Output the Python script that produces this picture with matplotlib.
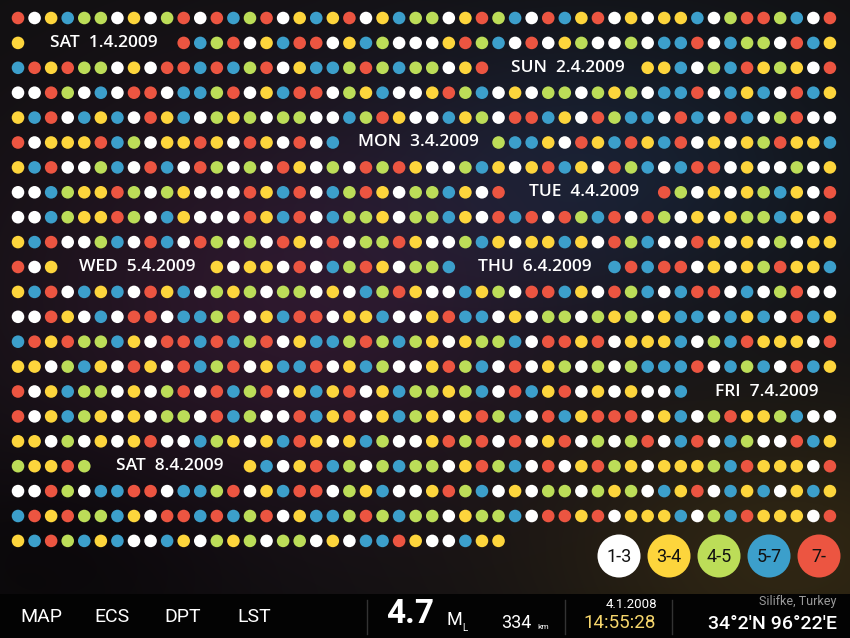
import numpy as np
import matplotlib.pyplot as plt
from matplotlib.patches import Circle

# magnitude classes -> colours
palette = {'W': '#ffffff', 'Y': '#fdd53c', 'G': '#bcdd58', 'B': '#3c9fcb', 'R': '#ec5541'}

# one string per row of dots, blanks are where the day labels sit
rows = [
    "RWYBGGWYWGRWRBGRWYBYRWYBGGWYRGBWRBYRWYWYYBWGRRGBWR",
    "Y         RBGRWYBRRWYBGWWWYRGBWRWYGWWGWBBRWBGGWRBY",
    "BRYRGGWYWRRBRBGRWYBBGRGBGGWYR         YYBWGBRYGYWR",
    "WWRGWBWRRWBBGRWYBRRWGYBWWYRGBWYWGGWGYGWBBRWBYBWRBY",
    "YBRWBYBWRYBWGYGWGGWWBGRYWWBYGWRRBYWRGBBWRBWRBWGRWW",
    "RWYYYRBGWYYRYWRYWRWB         GBBYWRYBRYBRWYWYGRYYB",
    "YBRWWGBWRBWRGWGWRYWGWRGRYWWGBYWYRBYWRGBWBRRWYWWGWY",
    "WWBGYYRGWGYWWWRYBRWBGRYWGGBYWR         RGWYWYGBYWR",
    "WWBGYYRGWBYWWWRYBRWBGGYWGGBYWRBRWRGBRWRGWYWYGGBYWR",
    "YBRWWGBWRBWRGWGWRYWRWGGRYWWGBYWYYBYWRGBWWRYWYWGWYY",
    "RWY         YWYYWRWBGRYWGGB         BRBRRWYWYGRYYB",
    "YBRWBYBWRYBWGYGWGGWYWBGRYWWBYGWRRBYWRGBWBRRWBWGRWW",
    "WWRYWBWRRWBBGRWYBRRWYYBWWYRBBWYWGGWGYGWYBBWBYBWRBY",
    "BRYRGGBYWRRBRBGRWYBBGRGBGYWYGGBWRRYRWYYYBWGBRYYYWR",
    "YYWGBYWRYWRBGRWYBBRWYBGWWYRGBWRWYGWGWGBBBRWBGBWRBY",
    "RWYBGGWYWGRWRBGRWYBYRWYBGGYGBWRBYRWYWYWWB         ",
    "RWYBGYWYWGGWRBGWWRBYRWYBGYWYRGBWRBYRRRWYBWGRYYGBWW",
    "YYWGWYWYRWWBGYWYBRYWYBGWWYRGRWRWYRWGWGRWBRWBGWWRBY",
    "GYYRG         YBWYRBGWGBGGWYRGBWRWYRGYWYYYGBRYYYWR",
    "WWRGWBBRRWBBGRWYBRRWGYBWWYRGBWYWGGWGYGWBYRWBYBWYBY",
    "BRYRGGBYWRRBRBGRWYBBGRGBGGWYGGBWRRYRWYYYBWGBRYYYWR",
    "YBRGBYBWWBYWGYGWGGWYWBBRYWWBYY                    ",
]

# day labels, in reading order: (row, text)
day_labels = [
    (1, "SAT  1.4.2009"), (2, "SUN  2.4.2009"), (5, "MON  3.4.2009"),
    (7, "TUE  4.4.2009"), (10, "WED  5.4.2009"), (10, "THU  6.4.2009"),
    (15, "FRI  7.4.2009"), (18, "SAT  8.4.2009"),
]

legend_keys = ['W', 'Y', 'G', 'B', 'R']
legend_text = ['1-3', '3-4', '4-5', '5-7', '7-']

menu_items = ['MAP', 'ECS', 'DPT', 'LST']

W, H = 850, 638
fig = plt.figure(figsize=(W / 100, H / 100), dpi=100)
ax = fig.add_axes([0, 0, 1, 1])

# dark background with faint coloured glows
yy, xx = np.mgrid[0:H, 0:W]


def glow(cx, cy, sx, sy):
    return np.exp(-(((xx - cx) / sx) ** 2 + ((yy - cy) / sy) ** 2))[..., None]


bg = np.ones((H, W, 3)) * np.array([17, 16, 17]) / 255
bg += glow(290, 300, 270, 200) * np.array([28, 7, 26]) / 255
bg += glow(600, 170, 250, 150) * np.array([4, 16, 30]) / 255
bg += glow(790, 560, 250, 150) * np.array([30, 22, 2]) / 255
bg += glow(60, 560, 200, 120) * np.array([-8, -8, -8]) / 255
bg[594:] = np.array([3, 3, 3]) / 255
bg = np.clip(bg, 0, 1)
ax.imshow(bg, extent=(0, W, H, 0), zorder=0, interpolation='bilinear')

# dot grid
x0, dx = 18, 16.57
y0, dy = 18, 24.9
xs, ys, cs = [], [], []
for r, row in enumerate(rows):
    for c, ch in enumerate(row):
        if ch in palette:
            xs.append(x0 + c * dx)
            ys.append(y0 + r * dy)
            cs.append(palette[ch])
ax.scatter(xs, ys, s=82, c=cs, linewidths=0, zorder=2)


# find the blank runs in each row and put the labels in them
def gaps(row):
    out = []
    c = 0
    while c < len(row):
        if row[c] == ' ':
            start = c
            while c < len(row) and row[c] == ' ':
                c += 1
            out.append((start, c - 1))
        else:
            c += 1
    return out


used = {}
for r, text in day_labels:
    k = used.get(r, 0)
    a, b = gaps(rows[r])[k]
    used[r] = k + 1
    xc = x0 + (a + b) / 2 * dx + 3
    ax.text(xc, y0 + r * dy, text, color='white', fontsize=12.5, family='Open Sans',
            weight='semibold', ha='center', va='center', zorder=3)

# legend bubbles
for i, (key, lab) in enumerate(zip(legend_keys, legend_text)):
    cx = 619 + i * 50
    ax.add_patch(Circle((cx, 556), 21.5, color=palette[key], lw=0, zorder=3))
    ax.text(cx, 557, lab, color='#111111', fontsize=13, ha='center', va='center',
            family='Roboto', zorder=4)

# bottom bar
for i, item in enumerate(menu_items):
    ax.text(41 + i * 71, 617, item, color='white', fontsize=14, ha='center',
            va='center', family='Roboto')

for x in [367, 565, 672]:
    ax.plot([x, x], [600, 634], color='#333333', lw=1, zorder=3)

ax.text(410, 614, '4.7', color='white', fontsize=24, weight='bold', ha='center',
        va='center', family='Roboto')
ax.text(447, 620, 'M', color='white', fontsize=13, ha='left', va='center', family='Roboto')
ax.text(462, 628, 'L', color='white', fontsize=7, ha='left', va='center', family='Roboto')
ax.text(516, 623, '334', color='white', fontsize=13, ha='center', va='center',
        family='Roboto')
ax.text(537, 627, 'km', color='white', fontsize=6, ha='left', va='center', family='Roboto')

ax.text(657, 604, '4.1.2008', color='white', fontsize=9.5, ha='right', va='center',
        family='Roboto')
ax.text(656, 623, '14:55:28', color='#f6d66c', fontsize=13.5, ha='right', va='center',
        family='Roboto')

ax.text(836, 602, 'Silifke, Turkey', color='#9a9a9a', fontsize=9, ha='right',
        va='center', family='Roboto')
ax.text(837, 624, "34°2'N 96°22'E", color='white', fontsize=14, ha='right',
        va='center', family='Roboto', weight='medium')

ax.set_xlim(0, W)
ax.set_ylim(H, 0)
ax.axis('off')

fig.savefig('out.png', dpi=100)
